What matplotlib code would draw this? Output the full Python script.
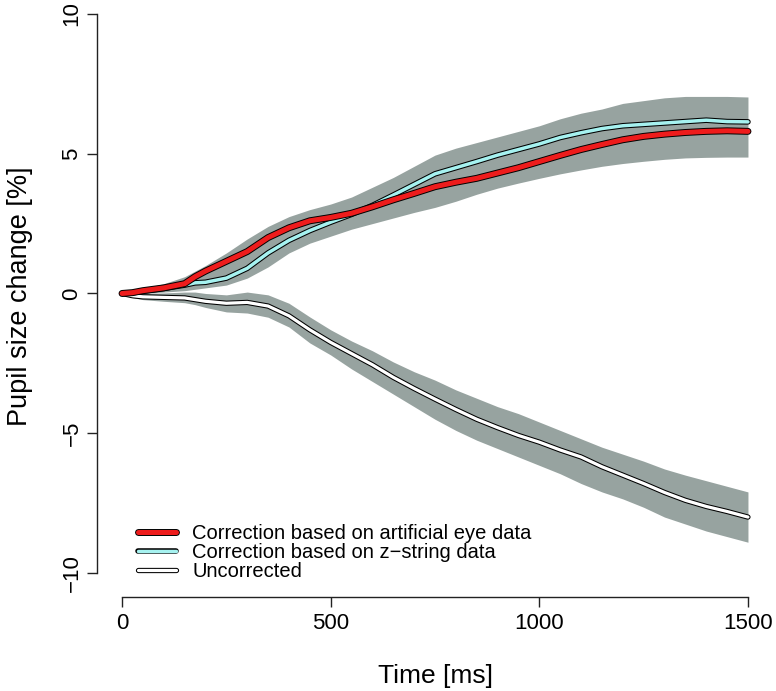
"""Pupil size change over time: corrected vs uncorrected traces with CI bands."""

import matplotlib

matplotlib.use("Agg")
import matplotlib.pyplot as plt  # noqa: E402

plt.rcParams["font.family"] = ["Liberation Sans", "DejaVu Sans"]

# time axis (ms)
time_ms = [0, 25, 50, 100, 150, 175, 200, 250, 300, 350, 400, 450, 500, 550,
           600, 650, 700, 750, 800, 850, 900, 950, 1000, 1050, 1100, 1150,
           1200, 1250, 1300, 1350, 1400, 1450, 1500]

# correction based on artificial eye data (red)
artificial = [0.0, 0.03, 0.1, 0.2, 0.35, 0.6, 0.8, 1.15, 1.5, 2.0, 2.35, 2.6,
              2.72, 2.87, 3.1, 3.35, 3.58, 3.82, 3.98, 4.12, 4.31, 4.5, 4.72,
              4.94, 5.15, 5.33, 5.5, 5.62, 5.7, 5.76, 5.8, 5.82, 5.8]

# correction based on z-string data (cyan)
zstring = [0.0, 0.02, 0.08, 0.18, 0.3, 0.38, 0.4, 0.55, 0.9, 1.45, 1.9, 2.25,
           2.55, 2.83, 3.15, 3.52, 3.9, 4.28, 4.5, 4.72, 4.95, 5.15, 5.35,
           5.58, 5.75, 5.9, 6.0, 6.05, 6.1, 6.15, 6.2, 6.15, 6.14]

# uncorrected (white)
uncorrected = [0.0, -0.08, -0.12, -0.14, -0.16, -0.22, -0.28, -0.35, -0.32,
               -0.45, -0.8, -1.3, -1.75, -2.15, -2.55, -3.0, -3.4, -3.78,
               -4.15, -4.5, -4.8, -5.08, -5.32, -5.6, -5.85, -6.2, -6.5, -6.8,
               -7.12, -7.4, -7.62, -7.8, -8.0]

# grey band around the two corrected traces
corr_band_hi = [0.05, 0.1, 0.18, 0.35, 0.6, 0.8, 1.0, 1.45, 1.95, 2.4, 2.75,
                3.0, 3.2, 3.45, 3.8, 4.15, 4.55, 4.95, 5.2, 5.4, 5.6, 5.8, 6.0,
                6.25, 6.45, 6.6, 6.8, 6.9, 7.0, 7.05, 7.05, 7.05, 7.03]
corr_band_lo = [-0.05, -0.05, 0.0, 0.05, 0.1, 0.15, 0.2, 0.3, 0.55, 0.95, 1.45,
                1.8, 2.05, 2.3, 2.5, 2.7, 2.9, 3.08, 3.3, 3.55, 3.77, 3.95,
                4.12, 4.28, 4.42, 4.55, 4.65, 4.73, 4.8, 4.85, 4.87, 4.88, 4.88]

# grey band around the uncorrected trace
unc_band_hi = [0.02, 0.0, 0.0, 0.02, 0.05, 0.05, 0.0, -0.05, 0.05, -0.05,
               -0.35, -0.84, -1.3, -1.7, -2.05, -2.45, -2.8, -3.1, -3.45,
               -3.75, -4.05, -4.3, -4.6, -4.9, -5.2, -5.5, -5.75, -6.0, -6.28,
               -6.5, -6.7, -6.9, -7.1]
unc_band_lo = [-0.05, -0.15, -0.22, -0.28, -0.33, -0.4, -0.5, -0.66, -0.7,
               -0.85, -1.2, -1.77, -2.2, -2.7, -3.15, -3.6, -4.05, -4.5, -4.9,
               -5.25, -5.55, -5.85, -6.15, -6.45, -6.8, -7.1, -7.35, -7.65,
               -8.0, -8.25, -8.5, -8.7, -8.9]

labels = ["Correction based on artificial eye data",
          "Correction based on z\u2212string data",
          "Uncorrected"]

BAND = "#97A3A0"
RED = "#EE1C1C"
CYAN = "#A6F2F0"

fig = plt.figure(figsize=(7.76, 6.91), dpi=100)
ax = fig.add_axes([97 / 776, 94 / 691, 676 / 776, 597 / 691])

ax.fill_between(time_ms, corr_band_lo, corr_band_hi, color=BAND, lw=0)
ax.fill_between(time_ms, unc_band_lo, unc_band_hi, color=BAND, lw=0)


def outlined(x, y, color, outer, inner):
    o, = ax.plot(x, y, color="black", lw=outer, solid_capstyle="round",
                 solid_joinstyle="round")
    i, = ax.plot(x, y, color=color, lw=inner, solid_capstyle="round",
                 solid_joinstyle="round")
    return o, i


h_unc = outlined(time_ms, uncorrected, "white", 3.8, 2.3)
h_z = outlined(time_ms, zstring, CYAN, 4.0, 2.5)
h_art = outlined(time_ms, artificial, RED, 5.0, 3.6)

ax.set_xlim(-60, 1560)
ax.set_ylim(-10.86, 10.5)

for side in ("top", "right"):
    ax.spines[side].set_visible(False)
ax.spines["left"].set_bounds(-10, 10)
ax.spines["bottom"].set_bounds(0, 1500)
for side in ("left", "bottom"):
    ax.spines[side].set_linewidth(1.0)
    ax.spines[side].set_color("#222222")

ax.set_xticks([0, 500, 1000, 1500])
ax.set_yticks([-10, -5, 0, 5, 10])
ax.tick_params(length=7.5, width=1.0, color="#222222", labelsize=16, pad=4)
ax.tick_params(axis="y", labelrotation=90, pad=3)
for lab in ax.get_yticklabels():
    lab.set_va("center")

fig.text(435 / 776, 1 - 676 / 691, "Time [ms]", fontsize=19,
         ha="center", va="center")
fig.text(20 / 776, 1 - 296 / 691, "Pupil size change [%]", fontsize=19.5,
         ha="center", va="center", rotation=90)

ax.legend([h_art, h_z, h_unc], labels, loc="upper left",
          bbox_to_anchor=(41 / 676, 73 / 597), frameon=False, fontsize=14.5,
          borderpad=0, borderaxespad=0, handlelength=1.9,
          handletextpad=0.8, labelspacing=0.0)

fig.savefig("out.png", dpi=100)
plt.close(fig)
